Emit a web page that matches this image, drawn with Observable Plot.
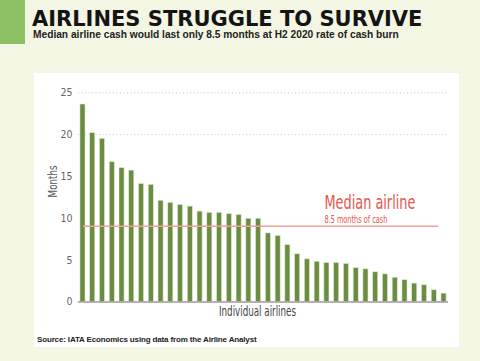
<!DOCTYPE html>
<html><head><meta charset="utf-8">
<script src="https://cdn.jsdelivr.net/npm/d3@7"></script>
<script src="https://cdn.jsdelivr.net/npm/@observablehq/plot@0.6"></script>
<style>
html,body{margin:0;padding:0;}
body{width:480px;height:361px;background:#f4f6e4;position:relative;overflow:hidden;font-family:"Liberation Sans",sans-serif;}
#greenblock{position:absolute;left:0;top:0;width:25px;height:44px;background:#8dc163;}
#title{position:absolute;left:32px;top:11px;font-family:"DejaVu Sans",sans-serif;font-weight:bold;font-size:21px;line-height:17px;color:#141414;white-space:nowrap;}
#subtitle{position:absolute;left:33px;top:28.5px;font-family:"Liberation Sans",sans-serif;font-weight:bold;font-size:10.2px;line-height:11px;color:#222;white-space:nowrap;}
#panel{position:absolute;left:34px;top:73px;width:425px;height:274px;background:#fff;}
#chart{position:absolute;left:34px;top:73px;width:425px;height:274px;}
#source{position:absolute;left:37px;top:335px;font-family:"Liberation Sans",sans-serif;font-weight:bold;font-size:8px;line-height:9px;letter-spacing:-0.15px;color:#222;white-space:nowrap;}
</style></head>
<body>
<div id="greenblock"></div>
<div id="title">AIRLINES STRUGGLE TO SURVIVE</div>
<div id="subtitle">Median airline cash would last only 8.5 months at H2 2020 rate of cash burn</div>
<div id="panel"></div>
<div id="chart"></div>
<div id="source">Source: IATA Economics using data from the Airline Analyst</div>
<script>
const airlines = [1,2,3,4,5,6,7,8,9,10,11,12,13,14,15,16,17,18,19,20,21,22,23,24,25,26,27,28,29,30,31,32,33,34,35,36,37,38];
const months = [23.6,20.2,19.5,16.7,16.0,15.7,14.1,14.0,12.1,11.85,11.6,11.4,10.8,10.65,10.65,10.5,10.4,9.95,9.95,8.2,7.9,6.8,5.7,5.1,4.8,4.65,4.65,4.55,4.05,3.9,3.55,3.3,2.9,2.6,2.2,2.0,1.4,1.0];
const yTicks = [0,5,10,15,20,25];
const gridValues = [20,25];
const medianPosition = 9.05;
const medianTitle = "Median airline";
const medianNote = "8.5 months of cash";
const yLabel = "Months";
const xLabel = "Individual airlines";

const data = airlines.map((a, i) => ({airline: a, months: months[i]}));
const narrow = "'Liberation Sans Narrow','DejaVu Sans Condensed',sans-serif";

const chart = Plot.plot({
  width: 425, height: 274,
  marginLeft: 44, marginRight: 11, marginTop: 19.3, marginBottom: 45.5,
  style: {background: "white", fontFamily: narrow, fontSize: "10.5px", color: "#666"},
  x: {type: "band", domain: airlines, paddingInner: 0.48, paddingOuter: 0.2, round: false, axis: null},
  y: {domain: [0, 25], ticks: yTicks, tickSize: 0, tickPadding: 6, label: null},
  marks: [
    Plot.ruleY(gridValues, {stroke: "#c4c4c4", strokeDasharray: "1,2.5", strokeWidth: 1}),
    Plot.barY(data, {x: "airline", y: "months", fill: "#6b8d41", stroke: "#dfe8d2", strokeWidth: 0.6}),
    Plot.ruleY([0], {stroke: "#9a9a9a", strokeWidth: 1.5}),
    Plot.ruleY([medianPosition], {x1: airlines[0], x2: airlines[36], stroke: "#f3a09c", strokeWidth: 1.5, insetLeft: 3, insetRight: -2}),
    Plot.text([medianTitle], {x: airlines[25], y: 11.12, textAnchor: "start", lineAnchor: "bottom", dx: -2.5, fill: "#e4564e", fontSize: 19, fontFamily: narrow}),
    Plot.text([medianNote], {x: airlines[25], y: 9.44, textAnchor: "start", lineAnchor: "bottom", dx: -2.5, fill: "#e4564e", fontSize: 10.5, fontFamily: narrow}),
    Plot.text([yLabel], {frameAnchor: "left", dx: -26, rotate: -90, fill: "#555", fontSize: 13, fontFamily: narrow}),
    Plot.text([xLabel], {frameAnchor: "bottom", dx: -6, dy: 14, fill: "#444", fontSize: 13.5, fontFamily: narrow})
  ]
});
document.getElementById("chart").appendChild(chart);

const lengths = {"Median airline": 91, "8.5 months of cash": 63, "Individual airlines": 77, "Months": 32};
d3.select(chart).selectAll("text").each(function() {
  const t = this.textContent;
  if (lengths[t]) {
    this.setAttribute("textLength", lengths[t]);
    this.setAttribute("lengthAdjust", "spacingAndGlyphs");
  }
});
</script>
</body></html>
